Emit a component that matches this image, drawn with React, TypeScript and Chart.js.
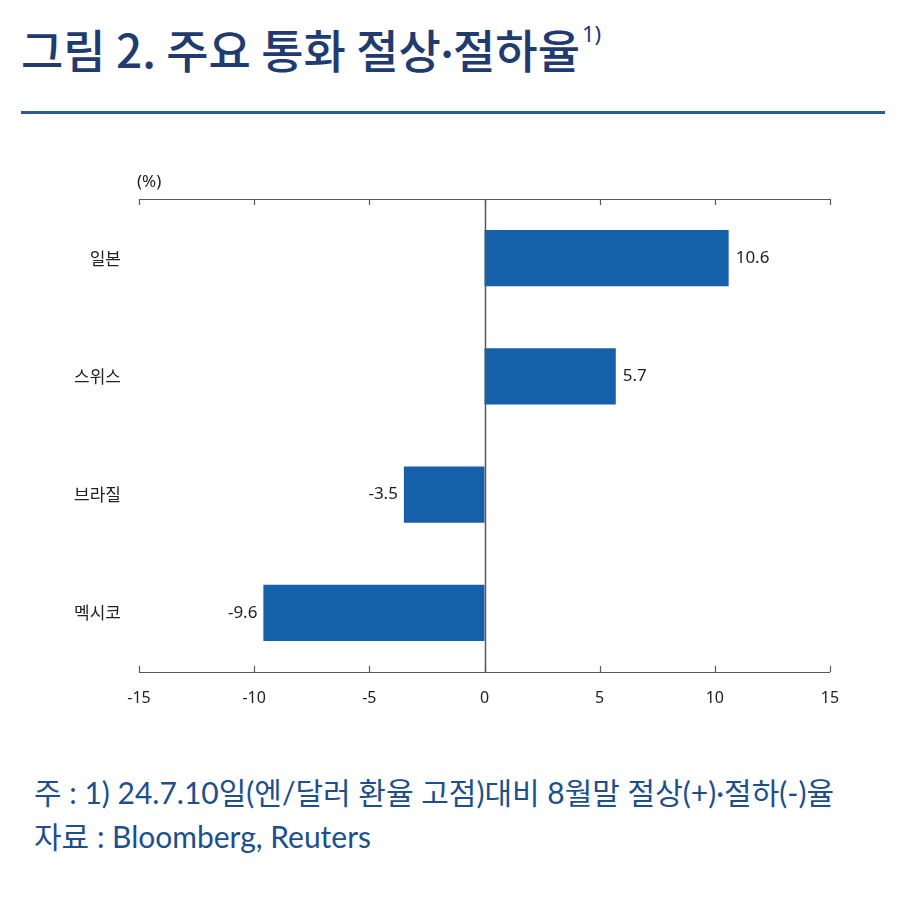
import React, { useEffect, useRef } from "react";
import { Chart, registerables } from "chart.js";

Chart.register(...registerables);

const categories: string[] = ["일본", "스위스", "브라질", "멕시코"];
const values: number[] = [10.6, 5.7, -3.5, -9.6];
const valueLabels: string[] = ["10.6", "5.7", "-3.5", "-9.6"];
const xMin = -15;
const xMax = 15;
const xStep = 5;

const titleA = "그림 2. 주요 통화 절상";
const titleDot = "·";
const titleB = "절하율";
const titleSup = "1)";
const unitText = "(%)";
const noteText = "주 : 1) 24.7.10일(엔/달러 환율 고점)대비 8월말 절상(+)·절하(-)율";
const sourceText = "자료 : Bloomberg, Reuters";

const BAR_COLOR = "#1660aa";
const AXIS_COLOR = "#595959";
const TEXT_COLOR = "#222222";

const axesPlugin = {
  id: "customAxes",
  afterDatasetsDraw(chart: any) {
    const { ctx, chartArea } = chart;
    const xs = chart.scales.x;
    ctx.save();
    ctx.strokeStyle = AXIS_COLOR;
    ctx.lineWidth = 1.2;
    ctx.beginPath();
    ctx.moveTo(chartArea.left, chartArea.top + 0.5);
    ctx.lineTo(chartArea.right, chartArea.top + 0.5);
    ctx.moveTo(chartArea.left, chartArea.bottom + 0.5);
    ctx.lineTo(chartArea.right, chartArea.bottom + 0.5);
    ctx.stroke();
    ctx.beginPath();
    xs.ticks.forEach((t: any) => {
      const px = Math.round(xs.getPixelForValue(t.value)) + 0.5;
      ctx.moveTo(px, chartArea.top);
      ctx.lineTo(px, chartArea.top + 6);
      ctx.moveTo(px, chartArea.bottom);
      ctx.lineTo(px, chartArea.bottom - 6);
    });
    ctx.stroke();
    const zx = Math.round(xs.getPixelForValue(0)) + 0.5;
    ctx.lineWidth = 1.5;
    ctx.beginPath();
    ctx.moveTo(zx, chartArea.top);
    ctx.lineTo(zx, chartArea.bottom);
    ctx.stroke();
    ctx.fillStyle = TEXT_COLOR;
    ctx.font = "17px 'Noto Sans', sans-serif";
    ctx.textAlign = "left";
    ctx.textBaseline = "middle";
    ctx.fillText(unitText, chartArea.left - 2, chartArea.top - 17);
    const meta = chart.getDatasetMeta(0);
    ctx.font = "17px 'Noto Sans', sans-serif";
    meta.data.forEach((bar: any, i: number) => {
      const v = values[i];
      if (v >= 0) {
        ctx.textAlign = "left";
        ctx.fillText(valueLabels[i], bar.x + 7, bar.y);
      } else {
        ctx.textAlign = "right";
        ctx.fillText(valueLabels[i], bar.x - 6, bar.y);
      }
    });
    ctx.restore();
  },
};

function BarChart() {
  const ref = useRef<HTMLCanvasElement>(null);
  useEffect(() => {
    if (!ref.current) return;
    const chart = new Chart(ref.current, {
      type: "bar",
      data: {
        labels: categories,
        datasets: [
          {
            data: values,
            backgroundColor: BAR_COLOR,
            borderWidth: 0,
            barPercentage: 0.95,
            categoryPercentage: 0.5,
          },
        ],
      },
      options: {
        indexAxis: "y",
        animation: false,
        responsive: false,
        maintainAspectRatio: false,
        layout: { padding: { left: 0, right: 70, top: 49, bottom: 18 } },
        plugins: {
          legend: { display: false },
          tooltip: { enabled: false },
          title: { display: false },
        },
        scales: {
          x: {
            type: "linear",
            min: xMin,
            max: xMax,
            grid: { display: false, drawTicks: false },
            border: { display: false },
            ticks: {
              stepSize: xStep,
              padding: 17,
              color: TEXT_COLOR,
              font: { family: "'Noto Sans', sans-serif", size: 16 },
            },
            afterFit: (s: any) => {
              s.height = 40;
            },
          },
          y: {
            type: "category",
            grid: { display: false, drawTicks: false },
            border: { display: false },
            ticks: {
              padding: 18,
              color: TEXT_COLOR,
              font: { family: "'Noto Sans CJK KR', sans-serif", size: 17 },
            },
            afterFit: (s: any) => {
              s.width = 139;
            },
          },
        },
      },
      plugins: [axesPlugin],
    });
    return () => chart.destroy();
  }, []);
  return <canvas ref={ref} width={900} height={580} style={{ display: "block" }} />;
}

export default function App() {
  return (
    <div
      style={{
        position: "absolute",
        left: 0,
        top: 0,
        width: 900,
        height: 923,
        background: "#ffffff",
        overflow: "hidden",
      }}
    >
      <div
        style={{
          position: "absolute",
          left: 21,
          top: 18,
          fontFamily: "'Noto Sans CJK KR', sans-serif",
          fontWeight: 500,
          fontSize: 46,
          lineHeight: "60px",
          color: "#1f3b70",
          whiteSpace: "nowrap",
        }}
      >
        {titleA}
        <span style={{ fontFamily: "Lato, sans-serif" }}>{titleDot}</span>
        {titleB}
        <sup
          style={{
            fontFamily: "'Noto Sans', sans-serif",
            fontSize: 22,
            fontWeight: 400,
            verticalAlign: "top",
            lineHeight: "30px",
            marginLeft: 2,
          }}
        >
          {titleSup}
        </sup>
      </div>
      <div
        style={{
          position: "absolute",
          left: 21,
          top: 111,
          width: 864,
          height: 3,
          background: "#2b5c99",
        }}
      />
      <div style={{ position: "absolute", left: 0, top: 150 }}>
        <BarChart />
      </div>
      <div
        style={{
          position: "absolute",
          left: 34,
          top: 770,
          fontFamily: "Lato, 'Noto Sans CJK KR', sans-serif",
          fontSize: 30,
          lineHeight: "44px",
          color: "#1d4f8c",
          whiteSpace: "nowrap",
          letterSpacing: 0,
        }}
      >
        <div>{noteText}</div>
        <div>{sourceText}</div>
      </div>
    </div>
  );
}
